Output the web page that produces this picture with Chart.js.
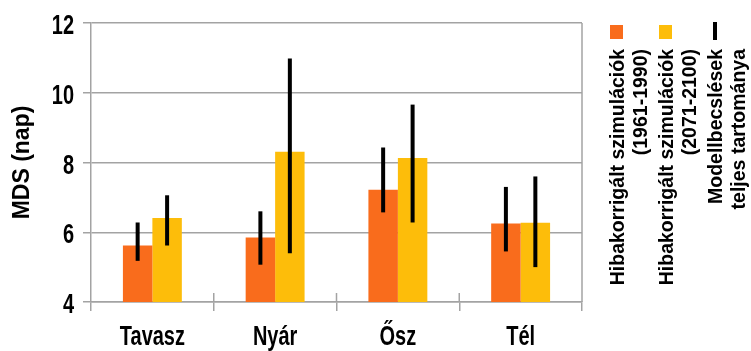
<!DOCTYPE html>
<html>
<head>
<meta charset="utf-8">
<script src="https://cdn.jsdelivr.net/npm/chart.js@4"></script>
<style>
  html, body { margin: 0; padding: 0; background: #fff; }
  #wrap { width: 751px; height: 351px; }
</style>
</head>
<body>
<div id="wrap"><canvas id="mdsChart" width="751" height="351"></canvas></div>
<script>
// seasons and MDS values (days)
const seasons = ['Tavasz', 'Nyár', 'Ősz', 'Tél'];
const histValues = [5.62, 5.85, 7.22, 6.25];   // 1961-1990
const futureValues = [6.41, 8.31, 8.13, 6.27]; // 2071-2100

// full range of the model estimates
const histLow = [5.18, 5.07, 6.57, 5.45];
const histHigh = [6.28, 6.60, 8.43, 7.30];
const futureLow = [5.62, 5.40, 6.28, 5.00];
const futureHigh = [7.06, 10.98, 9.66, 7.60];

const yTicks = [4, 6, 8, 10, 12];

const histLabel = ['Hibakorrigált szimulációk', '(1961-1990)'];
const futureLabel = ['Hibakorrigált szimulációk', '(2071-2100)'];
const rangeLabel = ['Modellbecslések', 'teljes tartománya'];

const gridColor = '#a3a3a3';
const boldFont = "'Liberation Sans', Arial, sans-serif";
const narrowScale = 0.74; // no Arial Narrow installed, so squeeze Arial-metric text

// tick labels in a narrow look, placed with the chart's own scales
const narrowTicks = {
    id: 'narrowTicks',
    afterDraw(chart) {
        const ctx = chart.ctx;
        const xs = chart.scales.x;
        const ys = chart.scales.y;
        ctx.save();
        ctx.fillStyle = '#000';
        ctx.font = 'bold 27px ' + boldFont;
        ctx.textBaseline = 'alphabetic';
        seasons.forEach((s, i) => {
            ctx.save();
            ctx.translate(xs.getPixelForTick(i), xs.top + 42.5);
            ctx.scale(narrowScale, 1);
            ctx.textAlign = 'center';
            ctx.fillText(s, 0, 0);
            ctx.restore();
        });
        yTicks.forEach(v => {
            ctx.save();
            ctx.translate(74, ys.getPixelForValue(v) + 11);
            ctx.scale(narrowScale, 1);
            ctx.textAlign = 'right';
            ctx.fillText(String(v), 0, 0);
            ctx.restore();
        });
        ctx.restore();
    }
};

// draws the range bars, the crossing tick marks, right frame and the rotated legend
const rangePlugin = {
    id: 'rangeBars',
    afterDatasetsDraw(chart) {
        const ctx = chart.ctx;
        const y = chart.scales.y;
        const area = chart.chartArea;
        const ranges = [[histLow, histHigh], [futureLow, futureHigh]];

        ctx.save();
        // right frame line
        ctx.strokeStyle = gridColor;
        ctx.lineWidth = 1.5;
        ctx.beginPath();
        ctx.moveTo(area.right, area.top);
        ctx.lineTo(area.right, area.bottom);
        ctx.stroke();
        // upper half of the category ticks (they cross the axis)
        const step = (area.right - area.left) / seasons.length;
        for (let i = 1; i < seasons.length; i++) {
            const x = area.left + i * step;
            ctx.beginPath();
            ctx.moveTo(x, area.bottom - 9);
            ctx.lineTo(x, area.bottom);
            ctx.stroke();
        }

        // error bars
        ctx.strokeStyle = '#000';
        ctx.lineWidth = 4;
        ctx.lineCap = 'butt';
        ranges.forEach((r, di) => {
            const meta = chart.getDatasetMeta(di);
            meta.data.forEach((bar, i) => {
                ctx.beginPath();
                ctx.moveTo(bar.x, y.getPixelForValue(r[0][i]));
                ctx.lineTo(bar.x, y.getPixelForValue(r[1][i]));
                ctx.stroke();
            });
        });
        ctx.restore();
    },
    afterDraw(chart) {
        const ctx = chart.ctx;
        const items = chart.data.datasets.map(d => ({ lines: d.legendLines, color: d.backgroundColor, box: true }));
        items.push({ lines: rangeLabel, color: '#000', box: false });
        const baseX = [624, 673, 722];
        const endY = 49;

        ctx.save();
        ctx.font = 'bold 19.5px ' + boldFont;
        items.forEach((it, k) => {
            const bx = baseX[k];
            ctx.fillStyle = it.color;
            if (it.box) {
                ctx.fillRect(bx - 14, endY - 24, 13, 14);
            } else {
                ctx.fillRect(bx - 9, endY - 27, 4, 18);
            }
            ctx.fillStyle = '#000';
            it.lines.forEach((line, j) => {
                ctx.save();
                ctx.translate(bx + j * 22.5, endY);
                ctx.rotate(-Math.PI / 2);
                ctx.textAlign = 'right';
                ctx.textBaseline = 'alphabetic';
                ctx.fillText(line, 0, 0);
                ctx.restore();
            });
        });
        ctx.restore();
    }
};

const ctx = document.getElementById('mdsChart').getContext('2d');
const data = {
    labels: seasons,
    datasets: [{
        label: histLabel.join(' '),
        legendLines: histLabel,
        data: histValues,
        backgroundColor: '#f96c1c',
        borderWidth: 0,
    }, {
        label: futureLabel.join(' '),
        legendLines: futureLabel,
        data: futureValues,
        backgroundColor: '#fdbd0a',
        borderWidth: 0,
    }]
};

const config = {
    type: 'bar',
    data: data,
    options: {
        responsive: false,
        animation: false,
        devicePixelRatio: 1,
        layout: {
            padding: { left: 0, right: 169, top: 23, bottom: 0 }
        },
        categoryPercentage: 0.48,
        barPercentage: 1.0,
        plugins: {
            legend: { display: false },
            tooltip: { enabled: false },
        },
        scales: {
            x: {
                grid: {
                    offset: true,
                    drawOnChartArea: false,
                    color: gridColor,
                    lineWidth: 1.5,
                    tickLength: 9,
                },
                border: { color: gridColor, width: 1.5 },
                ticks: { display: false },
                afterFit(scale) { scale.height = 49; },
            },
            y: {
                min: 4,
                max: 12,
                afterBuildTicks(scale) {
                    scale.ticks = yTicks.map(v => ({ value: v }));
                },
                grid: {
                    color: gridColor,
                    lineWidth: 1.5,
                    tickLength: 8,
                },
                border: { color: gridColor, width: 1.5 },
                ticks: { display: false },
                title: {
                    display: true,
                    text: 'MDS (nap)',
                    color: '#000',
                    padding: { top: 9, bottom: 0 },
                    font: { family: boldFont, size: 23, weight: 'bold' },
                },
                afterFit(scale) { scale.width = 91; },
            },
        },
    },
    plugins: [rangePlugin, narrowTicks],
};

const mdsChart = new Chart(ctx, config);
</script>
</body>
</html>
